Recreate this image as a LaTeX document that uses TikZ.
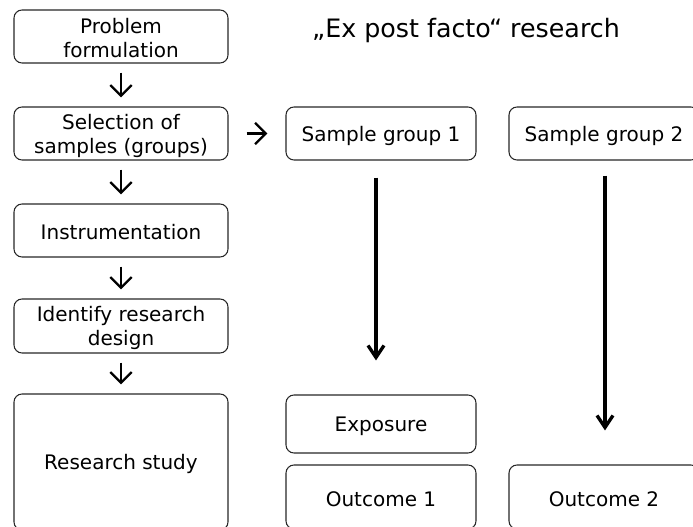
\documentclass[tikz,border=0pt]{standalone}
\usepackage{fontspec}
\setmainfont{DejaVu Sans}
\usetikzlibrary{arrows.meta}
\begin{document}
\begin{tikzpicture}[x=0.75pt,y=-0.75pt,
  box/.style={draw=black!85,line width=0.8pt,rounded corners=6pt,
    minimum width=214*0.75pt,inner sep=0pt},
  rbox/.style={box,minimum width=190*0.75pt},
  txt/.style={align=center,yshift=-1.5pt,inner sep=0pt,font=\fontsize{15}{18}\selectfont},
  small/.style={line width=1.8pt,-{Straight Barb[length=8pt,width=16pt]},shorten >=9*0.75pt,shorten <=9*0.75pt},
  big/.style={line width=2.5pt,-{Straight Barb[length=9pt,width=12pt]}}]
\useasboundingbox (0,0) rectangle (693,527);
\clip (0,0) rectangle (693,527);
\node[box,minimum height=53*0.75pt,label={[txt]center:Problem\\formulation}] (b1) at (121,36.5) {};
\node[box,minimum height=53*0.75pt,label={[txt]center:Selection of\\samples (groups)}] (b2) at (121,133.5) {};
\node[box,minimum height=53*0.75pt,label={[txt]center:Instrumentation}] (b3) at (121,230.5) {};
\node[box,minimum height=54*0.75pt,label={[txt]center:Identify research\\design}] (b4) at (121,326) {};
\node[box,minimum height=136*0.75pt,label={[txt]center:Research study}] (b5) at (121,462) {};
\node[font=\fontsize{19}{22}\selectfont] (title) at (466,31) {„Ex post facto“ research};
\node[rbox,minimum height=53*0.75pt,label={[txt]center:Sample group 1}] (s1) at (381,133.5) {};
\node[rbox,minimum height=53*0.75pt,label={[txt]center:Sample group 2}] (s2) at (604,133.5) {};
\node[rbox,minimum height=58*0.75pt,label={[txt]center:Exposure}] (ex) at (381,424) {};
\node[rbox,minimum height=64*0.75pt,label={[txt]center:Outcome 1}] (o1) at (381,497) {};
\node[rbox,minimum height=64*0.75pt,label={[txt]center:Outcome 2}] (o2) at (604,497) {};
\draw[small] (b1) -- (b2);
\draw[small] (b2) -- (b3);
\draw[small] (b3) -- (b4);
\draw[small] (b4) -- (b5);
\draw[small,shorten <=18*0.75pt,shorten >=18*0.75pt] (b2) -- (s1);
\draw[big,shorten <=17*0.75pt,shorten >=34*0.75pt] ([xshift=-3.75pt]s1.south) -- ([xshift=-3.75pt]ex.north);
\draw[big,shorten <=15*0.75pt,shorten >=34*0.75pt] ([xshift=0.75pt]s2.south) -- ([xshift=0.75pt]o2.north);
\end{tikzpicture}
\end{document}
